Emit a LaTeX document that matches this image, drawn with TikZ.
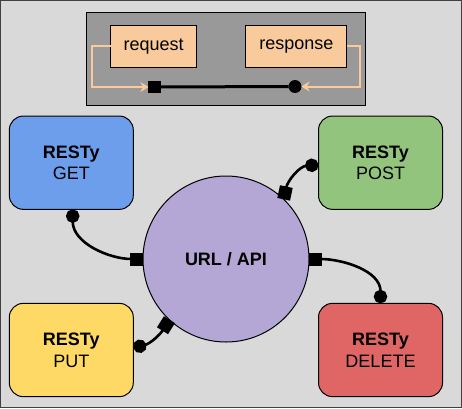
\documentclass[tikz,border=0pt]{standalone}
\usepackage{fontspec}
\setmainfont{Liberation Sans}
\usetikzlibrary{arrows.meta}
\definecolor{bgc}{HTML}{D9D9D9}
\definecolor{panelc}{HTML}{999999}
\definecolor{peachc}{HTML}{F9CB9C}
\definecolor{getc}{HTML}{6D9EEB}
\definecolor{postc}{HTML}{93C47D}
\definecolor{putc}{HTML}{FFD966}
\definecolor{delc}{HTML}{E06666}
\definecolor{urlc}{HTML}{B4A7D6}
\tikzset{
  txt/.style={font=\fontsize{18}{21.7}\selectfont, text=black, align=center},
  restbox/.style={txt, draw=black, line width=1pt, rounded corners=14pt,
    minimum width=124pt, minimum height=93.3pt, inner sep=0pt, outer sep=0pt},
  msgbox/.style={txt, draw=black, line width=1pt, fill=peachc,
    minimum height=42.3pt, inner sep=0pt, outer sep=0pt},
  sqnode/.style={fill=black, minimum size=12.5pt, inner sep=0pt, outer sep=0pt},
  dotnode/.style={circle, fill=black, minimum size=13pt, inner sep=0pt, outer sep=0pt},
  link/.style={line width=2.6pt, {Circle[length=13.5pt]}-{Square[length=13pt,width=13pt]}},
  feed/.style={draw=peachc, line width=2pt, -{Stealth[length=8pt,width=10pt]}}
}
\begin{document}
\begin{tikzpicture}[x=1pt,y=1pt]
\useasboundingbox (0,0) rectangle (462,408);
\node[draw=black!75, fill=bgc, line width=1pt, minimum width=461pt, minimum height=407pt,
  inner sep=0pt, outer sep=0pt] (frame) at (231,204) {};
\node[draw=black, fill=panelc, line width=1pt, minimum width=279pt, minimum height=93pt,
  inner sep=0pt, outer sep=0pt] (panel) at (226.2,348.8) {};
\node[msgbox, minimum width=86pt] (req) at (153.7,361.8) {request};
\node[msgbox, minimum width=100.7pt] (resp) at (296.3,361.8) {response};
\node[sqnode] (sq) at (154.7,321) {};
\node[dotnode] (dt) at (295,321.5) {};
\draw[line width=3pt] (sq.east) -- (dt.west);
\draw[feed] (req.west) -- ++(-18.4,0) |- (sq.west);
\draw[feed] (resp.east) -- ++(13.3,0) |- (dt.east);

\node[draw=black, fill=urlc, line width=1pt, circle, minimum size=166pt, inner sep=0pt,
  outer sep=0pt, txt] (url) at (226,149) {\textbf{URL / API}};

\node[restbox, fill=getc] (get) at (71.3,245.3) {\textbf{RESTy}\\GET};
\node[restbox, fill=postc] (post) at (380.5,245.3) {\textbf{RESTy}\\POST};
\node[restbox, fill=putc] (put) at (71.3,58) {\textbf{RESTy}\\PUT};
\node[restbox, fill=delc] (del) at (380.5,58) {\textbf{RESTy}\\DELETE};

\draw[link] ([xshift=1.4pt]get.south) to[out=-90,in=180] (url.west);
\draw[link] ([yshift=-2pt]post.west) to[out=185,in=78] (url.46);
\draw[link] (del.north) to[out=90,in=0] (url.east);
\draw[link] ([yshift=2pt]put.east) to[out=15,in=238] (url.227);
\end{tikzpicture}
\end{document}
